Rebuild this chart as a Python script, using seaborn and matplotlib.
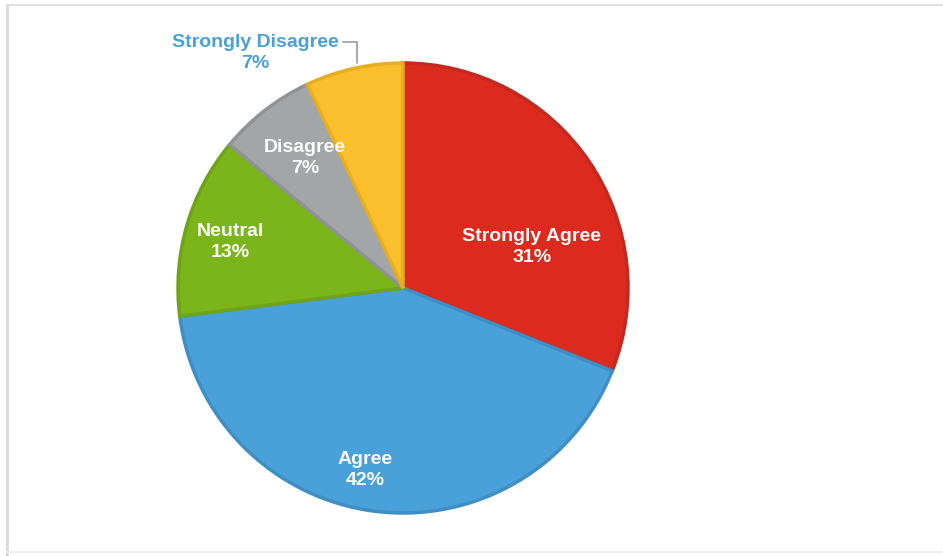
import matplotlib
matplotlib.use("Agg")
import matplotlib.pyplot as plt
import seaborn as sns
from matplotlib.lines import Line2D

sns.set_theme(style="white")
plt.rcParams['font.family'] = ['Liberation Sans', 'DejaVu Sans']

categories = ["Strongly Agree", "Agree", "Neutral", "Disagree", "Strongly Disagree"]
values = [31, 42, 13, 7, 7]
colors = ["#DC2A1E", "#4AA0D8", "#7CB51A", "#A3A6A9", "#FBBE2C"]
edge_colors = ["#C22A20", "#3F8FC4", "#6FA318", "#909396", "#E8AE22"]

W, H = 943, 556
fig = plt.figure(figsize=(W / 100, H / 100), dpi=100)

cx, cy, R = 403, 288, 225
ax = fig.add_axes([(cx - R) / W, (H - cy - R) / H, 2 * R / W, 2 * R / H])
wedges, _ = ax.pie(values, colors=colors, startangle=90, counterclock=False,
                   radius=1.0, wedgeprops=dict(linewidth=2.5))
for w, ec in zip(wedges, edge_colors):
    w.set_edgecolor(ec)
ax.set_xlim(-1, 1)
ax.set_ylim(-1, 1)
ax.set_aspect("equal")
ax.axis("off")

def d(px, py):
    return ((px - cx) / R, (cy - py) / R)

label_pix = {
    "Strongly Agree": (532, 247),
    "Agree": (365, 470),
    "Neutral": (230, 242),
    "Disagree": (305, 158),
}
FS = 14
LS = 1.28
for cat, val in zip(categories, values):
    if cat in label_pix:
        x, y = d(*label_pix[cat])
        ax.text(x, y, f"{cat}\n{val}%", ha="center", va="center", color="#FAFAFA",
                fontsize=FS, fontweight="bold", linespacing=LS)

x, y = d(255, 53)
ax.text(x, y, f"{categories[4]}\n{values[4]}%", ha="center", va="center",
        color="#4AA0D8", fontsize=FS, fontweight="bold", linespacing=LS,
        clip_on=False)
p1, p2, p3 = d(343, 42), d(357, 42), d(357, 63)
ax.add_line(Line2D([p1[0], p2[0], p3[0]], [p1[1], p2[1], p3[1]],
                   color="#999999", lw=1.2, clip_on=False))

# outer frame lines
fig.add_artist(Line2D([7 / W, 7 / W], [0, 1 - 5 / H], color="#D8D8D8", lw=2, transform=fig.transFigure))
fig.add_artist(Line2D([7 / W, 1], [1 - 5 / H, 1 - 5 / H], color="#E0E0E0", lw=1.5, transform=fig.transFigure))
fig.add_artist(Line2D([7 / W, 1], [4 / H, 4 / H], color="#F0F0F0", lw=1.5, transform=fig.transFigure))

fig.savefig("out.png", dpi=100, facecolor="white")
